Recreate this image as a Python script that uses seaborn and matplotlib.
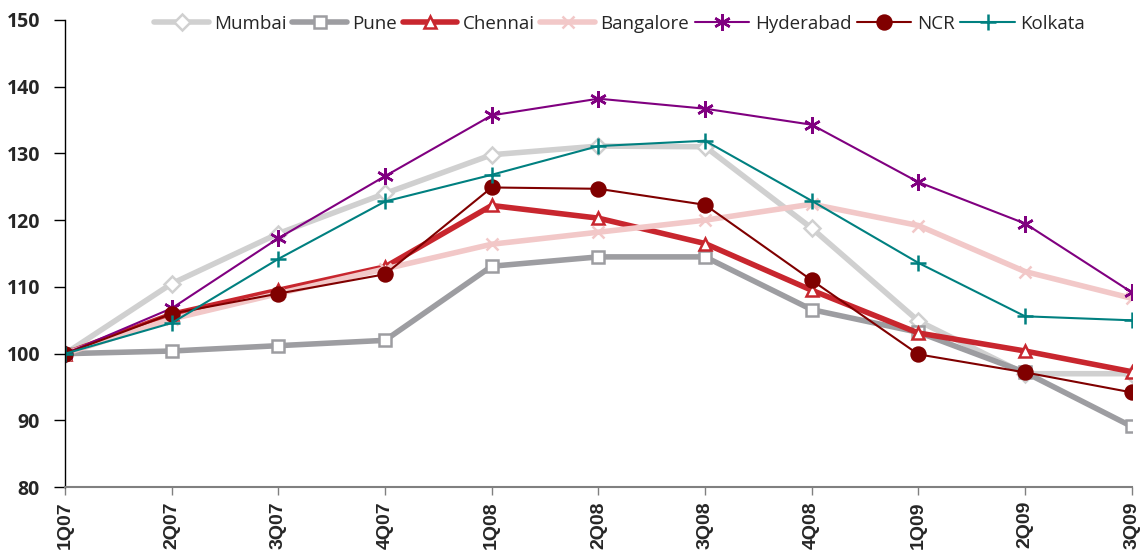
import pandas as pd
import matplotlib.pyplot as plt
import seaborn as sns

# quarters on the x axis
quarters = ["1Q07", "2Q07", "3Q07", "4Q07", "1Q08", "2Q08", "3Q08", "4Q08", "1Q09", "2Q09", "3Q09"]

# index values per city (1Q07 = 100)
mumbai = [100, 110.5, 118, 124, 129.8, 131.1, 131, 118.8, 104.9, 97, 97]
pune = [100, 100.4, 101.2, 102, 113.1, 114.5, 114.5, 106.6, 103.2, 97.2, 89.1]
chennai = [100, 105.9, 109.5, 113, 122.2, 120.3, 116.5, 109.5, 103.1, 100.4, 97.3]
bangalore = [100, 105.2, 109, 112.7, 116.4, 118.2, 120, 122.4, 119.2, 112.3, 108.3]
hyderabad = [100, 106.8, 117.3, 126.6, 135.7, 138.2, 136.7, 134.3, 125.7, 119.5, 109.2]
ncr = [100, 106, 109, 111.9, 124.9, 124.7, 122.3, 111, 99.9, 97.2, 94.2]
kolkata = [100, 104.6, 114.2, 122.8, 126.8, 131.1, 131.9, 122.9, 113.6, 105.6, 105]

cities = ["Mumbai", "Pune", "Chennai", "Bangalore", "Hyderabad", "NCR", "Kolkata"]
values = [mumbai, pune, chennai, bangalore, hyderabad, ncr, kolkata]

# line styling per city: colour, line width, marker, marker face, marker size
styles = {
    "Mumbai": ("#d0d0d0", 4, "D", "white", 8),
    "Pune": ("#9d9da1", 4, "s", "white", 9),
    "Chennai": ("#c8262e", 4, "^", "white", 9),
    "Bangalore": ("#f2c8c8", 4, "x", "none", 9),
    "Hyderabad": ("#800080", 1.5, (6, 2, 0), "none", 12),
    "NCR": ("#800000", 1.5, "o", "#800000", 10),
    "Kolkata": ("#008080", 1.5, "+", "none", 12),
}

df = pd.DataFrame({"Quarter": quarters * len(cities),
                   "pos": list(range(len(quarters))) * len(cities),
                   "City": [c for c in cities for _ in quarters],
                   "Value": [v for vals in values for v in vals]})

sns.set_theme(style="white")
plt.rcParams['font.family'] = ['Open Sans', 'DejaVu Sans']

fig = plt.figure(figsize=(11.42, 5.53), dpi=100)
ax = fig.add_axes([0.057, 0.119, 0.934, 0.845])

for city in cities:
    color, lw, marker, face, ms = styles[city]
    sub = df[df["City"] == city]
    sns.lineplot(data=sub, x="pos", y="Value", ax=ax, color=color, linewidth=lw,
                 marker=marker, markersize=ms, markerfacecolor=face,
                 markeredgecolor=color, markeredgewidth=1.8, label=city)

ax.set_xlim(0, len(quarters) - 1)
ax.set_ylim(80, 150)
ax.set_yticks(range(80, 151, 10))
ax.set_xticks(range(len(quarters)))
ax.set_xticklabels(quarters, rotation=90, fontweight="bold", fontsize=14,
                   family="Liberation Sans")
for lbl in ax.get_yticklabels():
    lbl.set_fontweight("bold")
    lbl.set_fontsize(14)
ax.set_xlabel("")
ax.set_ylabel("")

for side in ["top", "right"]:
    ax.spines[side].set_visible(False)
ax.spines["left"].set_color("black")
ax.spines["left"].set_linewidth(1)
ax.spines["bottom"].set_color("#808080")
ax.spines["bottom"].set_linewidth(1.5)
ax.tick_params(axis="y", left=True, length=8, width=1, color="black", pad=10)
ax.tick_params(axis="x", bottom=True, length=6, width=1, color="#808080", pad=4)

ax.legend(loc="upper center", bbox_to_anchor=(0.52, 1.047), ncol=7, frameon=False,
          fontsize=13.5, handlelength=2.9, handletextpad=0.3, columnspacing=0.3)

plt.savefig("out.png", dpi=100)
